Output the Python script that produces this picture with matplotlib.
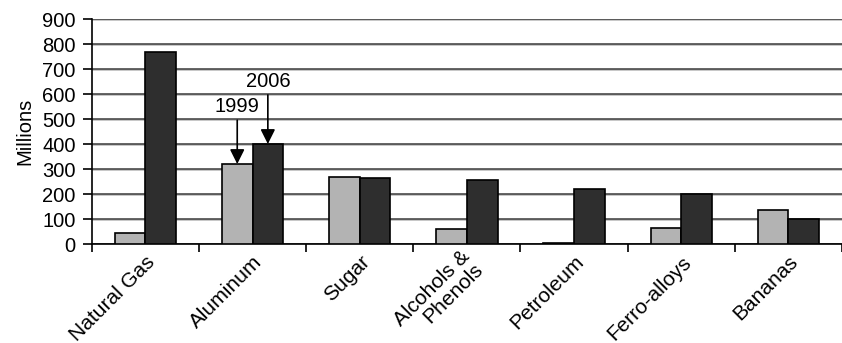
import matplotlib
matplotlib.use("Agg")
import matplotlib.pyplot as plt
import matplotlib.patheffects as pe
import matplotlib.transforms as mtransforms
import numpy as np

categories = ["Natural Gas", "Aluminum", "Sugar", "Alcohols &\nPhenols",
              "Petroleum", "Ferro-alloys", "Bananas"]
values_1999 = [45, 320, 270, 60, 5, 65, 138]
values_2006 = [768, 400, 266, 258, 222, 200, 100]
y_ticks = [0, 100, 200, 300, 400, 500, 600, 700, 800, 900]

plt.rcParams["font.family"] = ["Liberation Sans", "DejaVu Sans"]

fig = plt.figure(figsize=(8.42, 3.43), dpi=100)
ax = fig.add_axes([0.109, 0.2886, 0.891, 0.656])

n = len(categories)
x = np.arange(n) + 0.5
w = 1 / 3.5

ax.bar(x - w / 2, values_1999, width=w, color="#b3b3b3",
       edgecolor="black", linewidth=1.2, zorder=3)
ax.bar(x + w / 2, values_2006, width=w, color="#2e2e2e",
       edgecolor="black", linewidth=1.2, zorder=3)

ax.set_xlim(0, n)
ax.set_ylim(0, 900)
ax.set_yticks(y_ticks)
ax.set_yticklabels([str(v) for v in y_ticks], fontsize=14.5)
ax.set_xticks(np.arange(n + 1))
ax.set_xticklabels([])
ax.set_xticks(x, minor=True)
labels = ax.set_xticklabels(categories, minor=True, rotation=45, ha="right",
                            rotation_mode="anchor", fontsize=15,
                            multialignment="right", linespacing=1.0)
ax.tick_params(axis="x", which="minor", length=0, pad=6)
ax.tick_params(axis="x", which="major", direction="out", length=6, width=1.2)
ax.tick_params(axis="y", direction="out", length=6.5, width=1.2, pad=5)

# the two-line label sits a little higher and further left so it stays centred
shift = mtransforms.ScaledTranslation(-5 / 72, 4 / 72, fig.dpi_scale_trans)
for lab in labels:
    if "\n" in lab.get_text():
        lab.set_transform(lab.get_transform() + shift)

ax.yaxis.grid(True, color="#3a3a3a", linewidth=1.1, zorder=0)
for gl in ax.yaxis.get_gridlines():
    gl.set_path_effects([pe.SimpleLineShadow(offset=(0, -0.9),
                                             shadow_color="#b8b8b8", alpha=1.0),
                         pe.Normal()])
ax.set_axisbelow(True)

for side in ("top", "right"):
    ax.spines[side].set_visible(False)
ax.spines["left"].set_linewidth(1.2)
ax.spines["bottom"].set_linewidth(1.2)

ax.set_ylabel("Millions", fontsize=14.5, labelpad=6)

# Arrows pointing at the Aluminum bars to mark the two years
i_al = 1
ax.annotate("1999", xy=(x[i_al] - w / 2, values_1999[i_al]),
            xytext=(x[i_al] - w / 2, 550), ha="center", va="center", fontsize=14.5,
            arrowprops=dict(arrowstyle="-|>", color="black", lw=1.2,
                            mutation_scale=22, shrinkA=1, shrinkB=0))
ax.annotate("2006", xy=(x[i_al] + w / 2, values_2006[i_al]),
            xytext=(x[i_al] + w / 2, 651), ha="center", va="center", fontsize=14.5,
            arrowprops=dict(arrowstyle="-|>", color="black", lw=1.2,
                            mutation_scale=22, shrinkA=1, shrinkB=0))

fig.savefig("out.png", dpi=100)
